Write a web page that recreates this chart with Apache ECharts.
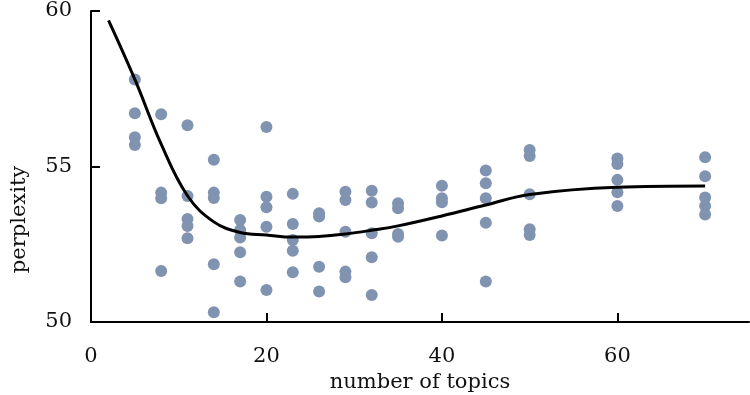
<!DOCTYPE html>
<html>
<head>
<meta charset="utf-8">
<script src="https://cdn.jsdelivr.net/npm/echarts@6/dist/echarts.min.js"></script>
<style>
  html, body { margin: 0; padding: 0; background: #fff; }
  #chart { width: 750px; height: 395px; }
</style>
</head>
<body>
<div id="chart"></div>
<script>
  // perplexity runs: [number of topics, perplexity]
  var runs = [
    [5, 57.8], [5, 56.71], [5, 55.94], [5, 55.69],
    [8, 56.68], [8, 54.16], [8, 53.98], [8, 51.64],
    [11, 56.33], [11, 54.05], [11, 53.31], [11, 53.09], [11, 52.69],
    [14, 55.22], [14, 54.16], [14, 53.99], [14, 51.86], [14, 50.31],
    [17, 53.28], [17, 52.96], [17, 52.72], [17, 52.24], [17, 51.30],
    [20, 56.27], [20, 54.03], [20, 53.69], [20, 53.06], [20, 51.03],
    [23, 54.12], [23, 53.15], [23, 52.64], [23, 52.29], [23, 51.60],
    [26, 53.5], [26, 53.39], [26, 51.78], [26, 50.98],
    [29, 54.19], [29, 53.92], [29, 52.90], [29, 51.62], [29, 51.44],
    [32, 54.22], [32, 53.84], [32, 52.85], [32, 52.08], [32, 50.87],
    [35, 53.82], [35, 53.66], [35, 52.83], [35, 52.74],
    [40, 54.38], [40, 53.98], [40, 53.85], [40, 52.78],
    [45, 54.87], [45, 54.46], [45, 53.98], [45, 53.19], [45, 51.30],
    [50, 55.53], [50, 55.34], [50, 54.11], [50, 52.98], [50, 52.80],
    [60, 55.26], [60, 55.08], [60, 54.57], [60, 54.17], [60, 53.73],
    [70, 55.30], [70, 54.69], [70, 54.0], [70, 53.73], [70, 53.46]
  ];

  // fitted curve
  var fitTopics = [2, 5, 8, 11, 14, 17, 20, 23, 26, 29, 32, 35, 40, 45, 50, 60, 70];
  var fitPerplexity = [59.7, 57.8, 55.72, 54.06, 53.22, 52.88, 52.8, 52.73, 52.75, 52.83, 52.95, 53.09, 53.41, 53.76, 54.1, 54.33, 54.37];

  var xTicks = [0, 20, 40, 60];
  var yTicks = [50, 55, 60];

  var fitLine = fitTopics.map(function (t, i) { return [t, fitPerplexity[i]]; });

  var chart = echarts.init(document.getElementById('chart'));
  var font = 'DejaVu Serif';

  chart.setOption({
    animation: false,
    grid: { left: 91, top: 11, right: 1, bottom: 73, outerBoundsMode: 'none' },
    xAxis: {
      type: 'value',
      min: 0,
      max: 75,
      interval: 20,
      name: 'number of topics',
      nameLocation: 'middle',
      nameGap: 46,
      nameTextStyle: { color: '#111', fontFamily: font, fontSize: 21 },
      axisLine: { lineStyle: { color: '#000', width: 2 } },
      axisTick: { inside: true, length: 9, lineStyle: { color: '#000', width: 2 }, customValues: [20, 40, 60] },
      axisLabel: { color: '#111', fontFamily: font, fontSize: 21, margin: 24, customValues: xTicks },
      splitLine: { show: false }
    },
    yAxis: {
      type: 'value',
      min: 50,
      max: 60,
      interval: 5,
      name: 'perplexity',
      nameLocation: 'middle',
      nameGap: 61,
      nameTextStyle: { color: '#111', fontFamily: font, fontSize: 21, padding: [0, 106, 0, 0] },
      axisLine: { show: true, lineStyle: { color: '#000', width: 2 } },
      axisTick: { show: true, inside: true, length: 9, lineStyle: { color: '#000', width: 2 }, customValues: [55, 60] },
      axisLabel: { color: '#111', fontFamily: font, fontSize: 21, margin: 19, customValues: yTicks },
      splitLine: { show: false }
    },
    series: [
      {
        type: 'scatter',
        data: runs,
        symbolSize: 12,
        itemStyle: { color: '#8094b2', opacity: 1 }
      },
      {
        type: 'line',
        data: fitLine,
        smooth: 0.4,
        showSymbol: false,
        lineStyle: { color: '#000', width: 3 }
      }
    ]
  });
</script>
</body>
</html>
